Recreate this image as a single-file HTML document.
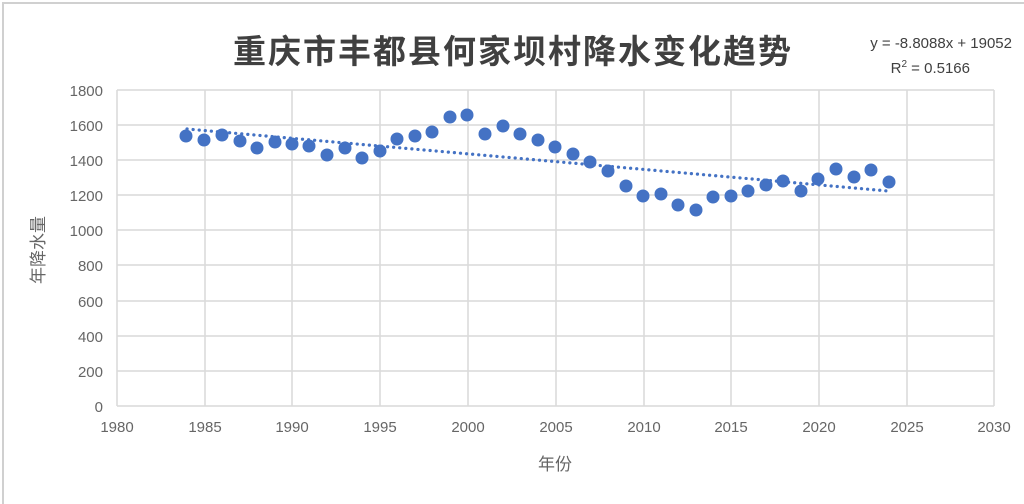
<!DOCTYPE html>
<html><head><meta charset="utf-8"><style>
body{margin:0;background:#fff;}
svg{display:block;}
text{font-family:"Liberation Sans","Noto Sans CJK SC",sans-serif;}
</style></head><body>
<svg width="1024" height="504" viewBox="0 0 1024 504" xmlns="http://www.w3.org/2000/svg">
<rect x="0" y="0" width="1024" height="504" fill="#fff"/>
<path d="M3 504 V3 H1024" fill="none" stroke="#d0d0d0" stroke-width="2"/>
<text x="513" y="63" text-anchor="middle" font-size="33" font-weight="bold" fill="#404040" letter-spacing="2">重庆市丰都县何家坝村降水变化趋势</text>
<text x="1012" y="48" text-anchor="end" font-size="15" fill="#404040">y = -8.8088x + 19052</text>
<text x="970" y="73" text-anchor="end" font-size="15" fill="#404040">R<tspan font-size="10" dy="-6">2</tspan><tspan dy="6"> = 0.5166</tspan></text>
<g stroke="#d9d9d9" stroke-width="1.5">
<line x1="117" y1="90" x2="994" y2="90"/><line x1="117" y1="125" x2="994" y2="125"/><line x1="117" y1="160" x2="994" y2="160"/><line x1="117" y1="195" x2="994" y2="195"/><line x1="117" y1="230" x2="994" y2="230"/><line x1="117" y1="265" x2="994" y2="265"/><line x1="117" y1="301" x2="994" y2="301"/><line x1="117" y1="336" x2="994" y2="336"/><line x1="117" y1="371" x2="994" y2="371"/><line x1="117" y1="406" x2="994" y2="406"/>
<line x1="117" y1="90" x2="117" y2="406"/><line x1="205" y1="90" x2="205" y2="406"/><line x1="292" y1="90" x2="292" y2="406"/><line x1="380" y1="90" x2="380" y2="406"/><line x1="468" y1="90" x2="468" y2="406"/><line x1="556" y1="90" x2="556" y2="406"/><line x1="644" y1="90" x2="644" y2="406"/><line x1="731" y1="90" x2="731" y2="406"/><line x1="819" y1="90" x2="819" y2="406"/><line x1="907" y1="90" x2="907" y2="406"/><line x1="994" y1="90" x2="994" y2="406"/>
</g>
<g font-size="15" fill="#666" text-anchor="end">
<text x="103" y="96">1800</text><text x="103" y="131">1600</text><text x="103" y="166">1400</text><text x="103" y="201">1200</text><text x="103" y="236">1000</text><text x="103" y="271">800</text><text x="103" y="307">600</text><text x="103" y="342">400</text><text x="103" y="377">200</text><text x="103" y="412">0</text>
</g>
<g font-size="15" fill="#666" text-anchor="middle">
<text x="117" y="432">1980</text><text x="205" y="432">1985</text><text x="292" y="432">1990</text><text x="380" y="432">1995</text><text x="468" y="432">2000</text><text x="556" y="432">2005</text><text x="644" y="432">2010</text><text x="731" y="432">2015</text><text x="819" y="432">2020</text><text x="907" y="432">2025</text><text x="994" y="432">2030</text>
</g>
<text x="555" y="470" font-size="17" fill="#666" text-anchor="middle">年份</text>
<text transform="translate(44,250) rotate(-90)" font-size="17" fill="#666" text-anchor="middle">年降水量</text>
<line x1="187" y1="129" x2="888" y2="191" stroke="#4472c4" stroke-width="3.2" stroke-dasharray="0.1 6" stroke-linecap="round"/>
<g fill="#4472c4">
<circle cx="186" cy="136" r="6.5"/><circle cx="204" cy="140" r="6.5"/><circle cx="222" cy="135" r="6.5"/><circle cx="240" cy="141" r="6.5"/><circle cx="257" cy="148" r="6.5"/><circle cx="275" cy="142" r="6.5"/><circle cx="292" cy="144" r="6.5"/><circle cx="309" cy="146" r="6.5"/><circle cx="327" cy="155" r="6.5"/><circle cx="345" cy="148" r="6.5"/><circle cx="362" cy="158" r="6.5"/><circle cx="380" cy="151" r="6.5"/><circle cx="397" cy="139" r="6.5"/><circle cx="415" cy="136" r="6.5"/><circle cx="432" cy="132" r="6.5"/><circle cx="450" cy="117" r="6.5"/><circle cx="467" cy="115" r="6.5"/><circle cx="485" cy="134" r="6.5"/><circle cx="503" cy="126" r="6.5"/><circle cx="520" cy="134" r="6.5"/><circle cx="538" cy="140" r="6.5"/><circle cx="555" cy="147" r="6.5"/><circle cx="573" cy="154" r="6.5"/><circle cx="590" cy="162" r="6.5"/><circle cx="608" cy="171" r="6.5"/><circle cx="626" cy="186" r="6.5"/><circle cx="643" cy="196" r="6.5"/><circle cx="661" cy="194" r="6.5"/><circle cx="678" cy="205" r="6.5"/><circle cx="696" cy="210" r="6.5"/><circle cx="713" cy="197" r="6.5"/><circle cx="731" cy="196" r="6.5"/><circle cx="748" cy="191" r="6.5"/><circle cx="766" cy="185" r="6.5"/><circle cx="783" cy="181" r="6.5"/><circle cx="801" cy="191" r="6.5"/><circle cx="818" cy="179" r="6.5"/><circle cx="836" cy="169" r="6.5"/><circle cx="854" cy="177" r="6.5"/><circle cx="871" cy="170" r="6.5"/><circle cx="889" cy="182" r="6.5"/>
</g>
</svg>
</body></html>
